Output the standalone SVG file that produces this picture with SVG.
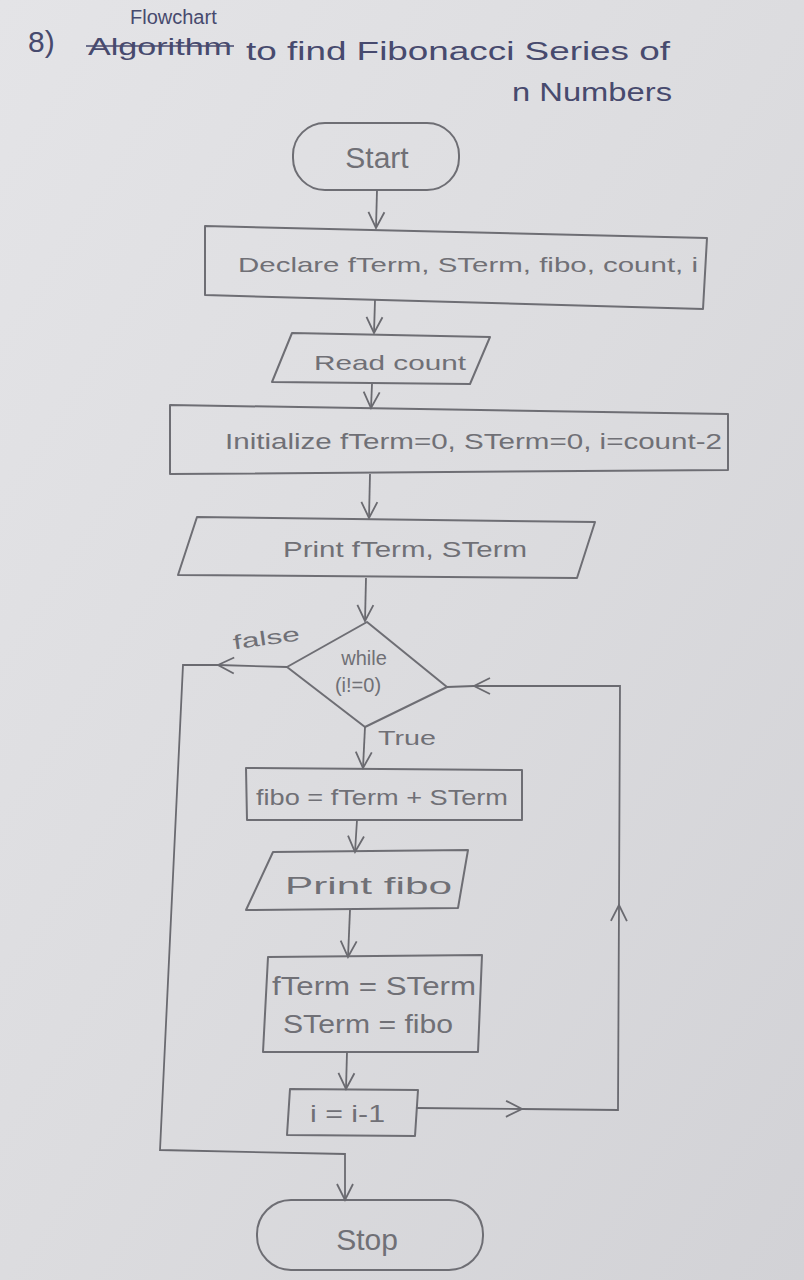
<svg xmlns="http://www.w3.org/2000/svg" width="804" height="1280" viewBox="0 0 804 1280">
<defs>
<linearGradient id="paper" x1="0" y1="0" x2="1" y2="1">
<stop offset="0" stop-color="#e4e4e7"/>
<stop offset="0.5" stop-color="#dcdcdf"/>
<stop offset="1" stop-color="#d2d2d6"/>
</linearGradient>
<marker id="v" viewBox="0 0 20 20" refX="18" refY="10" markerWidth="20" markerHeight="20" markerUnits="userSpaceOnUse" orient="auto">
<path d="M2,2 L18,10 L2,18" fill="none" stroke="#6a6a70" stroke-width="1.8"/>
</marker>
<style>
.s{fill:none;stroke:#6e6e74;stroke-width:2;stroke-linejoin:round}
.c{fill:none;stroke:#6a6a70;stroke-width:1.8}
.t{font-family:"Liberation Sans",sans-serif;fill:#707076}
.h{font-family:"Liberation Sans",sans-serif;fill:#474a6e}
</style>
</defs>
<rect width="804" height="1280" fill="url(#paper)"/>
<g id="title">
<text class="h" x="130" y="24" font-size="20">Flowchart</text>
<text class="h" x="28" y="52" font-size="30">8)</text>
<text class="h" x="88" y="55" font-size="24" textLength="144" lengthAdjust="spacingAndGlyphs">Algorithm</text>
<line x1="86" y1="46" x2="234" y2="46" stroke="#474a6e" stroke-width="1.5"/>
<text class="h" x="246" y="60" font-size="26" textLength="424" lengthAdjust="spacingAndGlyphs">to find Fibonacci Series of</text>
<text class="h" x="512" y="101" font-size="26" textLength="160" lengthAdjust="spacingAndGlyphs">n Numbers</text>
</g>
<g id="start">
<rect class="s" x="293" y="123" width="166" height="67" rx="32"/>
<text class="t" x="377" y="168" font-size="30" text-anchor="middle">Start</text>
</g>
<g id="declare">
<polygon class="s" points="205,226 707,238 703,309 205,295"/>
<text class="t" x="238" y="272" font-size="21" textLength="460" lengthAdjust="spacingAndGlyphs">Declare fTerm, STerm, fibo, count, i</text>
</g>
<g id="read">
<polygon class="s" points="292,333 490,337 470,384 272,382"/>
<text class="t" x="314" y="370" font-size="21" textLength="152" lengthAdjust="spacingAndGlyphs">Read count</text>
</g>
<g id="init">
<polygon class="s" points="170,405 728,414 728,470 170,474"/>
<text class="t" x="225" y="449" font-size="22" textLength="497" lengthAdjust="spacingAndGlyphs">Initialize fTerm=0, STerm=0, i=count-2</text>
</g>
<g id="print1">
<polygon class="s" points="197,517 595,522 577,578 178,575"/>
<text class="t" x="283" y="557" font-size="22" textLength="244" lengthAdjust="spacingAndGlyphs">Print fTerm, STerm</text>
</g>
<g id="while">
<polygon class="s" points="367,622 447,687 365,727 287,667"/>
<text class="t" x="364" y="665" font-size="20" text-anchor="middle">while</text>
<text class="t" x="358" y="692" font-size="20" text-anchor="middle">(i!=0)</text>
</g>
<g id="fibo">
<polygon class="s" points="246,768 522,770 522,820 247,820"/>
<text class="t" x="256" y="805" font-size="22" textLength="252" lengthAdjust="spacingAndGlyphs">fibo = fTerm + STerm</text>
</g>
<g id="print2">
<polygon class="s" points="273,852 468,850 458,908 246,910"/>
<text class="t" x="285" y="894" font-size="24" textLength="167" lengthAdjust="spacingAndGlyphs">Print fibo</text>
</g>
<g id="swap">
<polygon class="s" points="268,957 482,955 478,1052 263,1052"/>
<text class="t" x="272" y="995" font-size="26" textLength="204" lengthAdjust="spacingAndGlyphs">fTerm = STerm</text>
<text class="t" x="283" y="1033" font-size="26" textLength="170" lengthAdjust="spacingAndGlyphs">STerm = fibo</text>
</g>
<g id="dec">
<polygon class="s" points="290,1089 418,1090 415,1136 287,1135"/>
<text class="t" x="310" y="1122" font-size="24" textLength="75" lengthAdjust="spacingAndGlyphs">i = i-1</text>
</g>
<g id="stop">
<rect class="s" x="257" y="1200" width="226" height="70" rx="34"/>
<text class="t" x="367" y="1250" font-size="30" text-anchor="middle">Stop</text>
</g>
<g id="connectors">
<path class="c" d="M377,190 L376,228" marker-end="url(#v)"/>
<path class="c" d="M375,300 L374,333" marker-end="url(#v)"/>
<path class="c" d="M372,384 L371,408" marker-end="url(#v)"/>
<path class="c" d="M370,474 L369,518" marker-end="url(#v)"/>
<path class="c" d="M366,578 L365,621" marker-end="url(#v)"/>
<path class="c" d="M287,667 L218,665" marker-end="url(#v)"/>
<path class="c" d="M218,665 L183,665 L160,1150 L345,1154 L345,1200" marker-end="url(#v)"/>
<path class="c" d="M365,727 L363,768" marker-end="url(#v)"/>
<path class="c" d="M357,820 L355,852" marker-end="url(#v)"/>
<path class="c" d="M350,910 L348,957" marker-end="url(#v)"/>
<path class="c" d="M347,1052 L346,1089" marker-end="url(#v)"/>
<path class="c" d="M416,1108 L522,1109" marker-end="url(#v)"/>
<path class="c" d="M522,1109 L618,1110 L619,905" marker-end="url(#v)"/>
<path class="c" d="M619,905 L620,686 L474,686" marker-end="url(#v)"/>
<path class="c" d="M474,686 L447,687"/>
<text class="t" x="233" y="645" font-size="20" textLength="67" lengthAdjust="spacingAndGlyphs" transform="rotate(-8 266 640)">false</text>
<text class="t" x="378" y="745" font-size="20" textLength="58" lengthAdjust="spacingAndGlyphs">True</text>
</g>
</svg>
